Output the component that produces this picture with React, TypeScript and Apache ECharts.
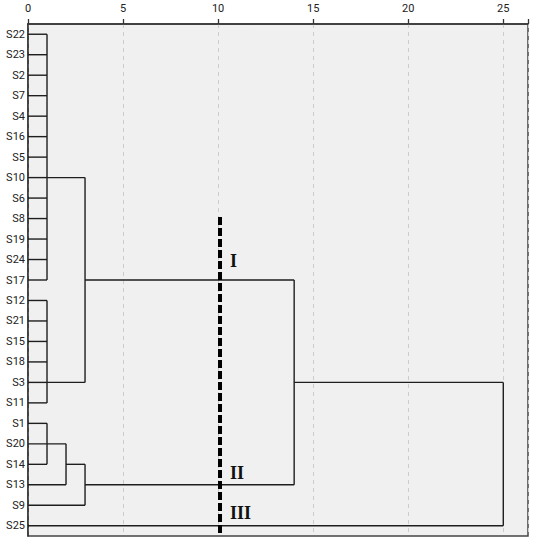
import React, { useEffect, useRef } from "react";
import * as echarts from "echarts";

// Leaf order, top to bottom
const categories = [
  "S22", "S23", "S2", "S7", "S4", "S16", "S5", "S10", "S6", "S8", "S19", "S24", "S17",
  "S12", "S21", "S15", "S18", "S3", "S11",
  "S1", "S20", "S14", "S13", "S9", "S25",
];

// Horizontal branches: [row, fromDistance, toDistance]
const branches: [string, number, number][] = [
  ["S22", 0, 1], ["S23", 0, 1], ["S2", 0, 1], ["S7", 0, 1], ["S4", 0, 1], ["S16", 0, 1],
  ["S5", 0, 1], ["S10", 0, 1], ["S6", 0, 1], ["S8", 0, 1], ["S19", 0, 1], ["S24", 0, 1], ["S17", 0, 1],
  ["S12", 0, 1], ["S21", 0, 1], ["S15", 0, 1], ["S18", 0, 1], ["S3", 0, 1], ["S11", 0, 1],
  ["S10", 1, 3], ["S3", 1, 3], ["S17", 3, 14],
  ["S1", 0, 1], ["S14", 0, 1], ["S20", 0, 2], ["S13", 0, 2], ["S14", 2, 3], ["S9", 0, 3],
  ["S13", 3, 14], ["S3", 14, 25], ["S25", 0, 25],
];

// Vertical joins: [distance, firstRow, lastRow]
const merges: [number, string, string][] = [
  [1, "S22", "S17"],
  [1, "S12", "S11"],
  [3, "S10", "S3"],
  [1, "S1", "S14"],
  [2, "S20", "S13"],
  [3, "S14", "S9"],
  [14, "S17", "S13"],
  [25, "S3", "S25"],
];

// Cut line at distance, from fractional row to bottom
const cutDistance = 10.1;
const cutRowTop = 8.92;
const cutRowBottom = 24.5;

const clusterLabels = ["I", "II", "III"];
const clusterLabelX = [10.62, 10.62, 10.62];
const clusterLabelRow = [11.07, 21.41, 23.36];

const xMax = 26.3;

const idx = (n: string) => categories.indexOf(n);

function yAt(api: any, r: number) {
  const i = Math.floor(r);
  const band = Math.abs(api.size([0, 1])[1]);
  return api.coord([0, i])[1] + (r - i) * band;
}

export default function App() {
  const ref = useRef<HTMLDivElement>(null);

  useEffect(() => {
    if (!ref.current) return;
    const chart = echarts.init(ref.current, undefined, { renderer: "svg" });

    const segData: number[][] = [];
    branches.forEach(([row, a, b]) => segData.push([a, idx(row), b, idx(row)]));
    merges.forEach(([d, r1, r2]) => segData.push([d, idx(r1), d, idx(r2)]));

    const option: any = {
      animation: false,
      backgroundColor: "#ffffff",
      grid: {
        left: 28,
        right: 10,
        top: 24,
        bottom: 14,
        show: true,
        backgroundColor: "#f0f0f0",
        borderColor: "#444444",
        borderWidth: 1.5,
      },
      xAxis: {
        type: "value",
        position: "top",
        min: 0,
        max: xMax,
        interval: 5,
        axisLine: { show: true, lineStyle: { color: "#333333", width: 1.5 } },
        axisTick: { show: true, length: 5, lineStyle: { color: "#333333", width: 1.3 } },
        axisLabel: {
          margin: 10,
          fontSize: 11,
          fontFamily: "Roboto",
          color: "#222222",
          formatter: (v: number) => (v % 5 === 0 ? String(v) : ""),
        },
        splitLine: { show: true, lineStyle: { color: "#cccccc", type: [4, 4], width: 1 } },
      },
      yAxis: {
        type: "category",
        data: categories,
        inverse: true,
        boundaryGap: true,
        axisLine: { show: true, lineStyle: { color: "#333333", width: 1.5 } },
        axisTick: { show: false },
        axisLabel: {
          margin: 3,
          fontSize: 11,
          fontFamily: "Roboto",
          color: "#222222",
          interval: 0,
        },
        splitLine: { show: false },
      },
      series: [
        {
          type: "custom",
          name: "tree",
          clip: false,
          encode: { x: [0, 2], y: [1, 3] },
          data: segData,
          renderItem: (params: any, api: any) => {
            const p1 = api.coord([api.value(0), api.value(1)]);
            const p2 = api.coord([api.value(2), api.value(3)]);
            return {
              type: "line",
              shape: { x1: p1[0], y1: p1[1], x2: p2[0], y2: p2[1] },
              style: { stroke: "#1e1e1e", lineWidth: 1.4 },
            };
          },
          z: 3,
        },
        {
          type: "custom",
          name: "cut",
          clip: false,
          encode: { x: 0, y: 1 },
          data: [[cutDistance, cutRowTop, cutRowBottom]],
          renderItem: (params: any, api: any) => {
            const x = api.coord([api.value(0), 0])[0];
            const y1 = yAt(api, api.value(1));
            const y2 = yAt(api, api.value(2));
            return {
              type: "line",
              shape: { x1: x, y1, x2: x, y2 },
              style: { stroke: "#000000", lineWidth: 4, lineDash: [8, 3] },
            };
          },
          z: 5,
        },
        {
          type: "custom",
          name: "labels",
          clip: false,
          encode: { x: 0, y: 1 },
          data: clusterLabelX.map((x, i) => [x, clusterLabelRow[i]]),
          renderItem: (params: any, api: any) => {
            const x = api.coord([api.value(0), 0])[0];
            const y = yAt(api, api.value(1));
            return {
              type: "text",
              x,
              y,
              style: {
                text: clusterLabels[params.dataIndex],
                fill: "#111111",
                fontFamily: "Liberation Serif",
                fontWeight: "bold",
                fontSize: 18,
                align: "left",
                verticalAlign: "middle",
              },
            };
          },
          z: 6,
        },
      ],
    };

    chart.setOption(option);
    return () => chart.dispose();
  }, []);

  return (
    <div
      ref={ref}
      style={{ position: "fixed", left: 0, top: 0, width: 538, height: 550 }}
    />
  );
}
